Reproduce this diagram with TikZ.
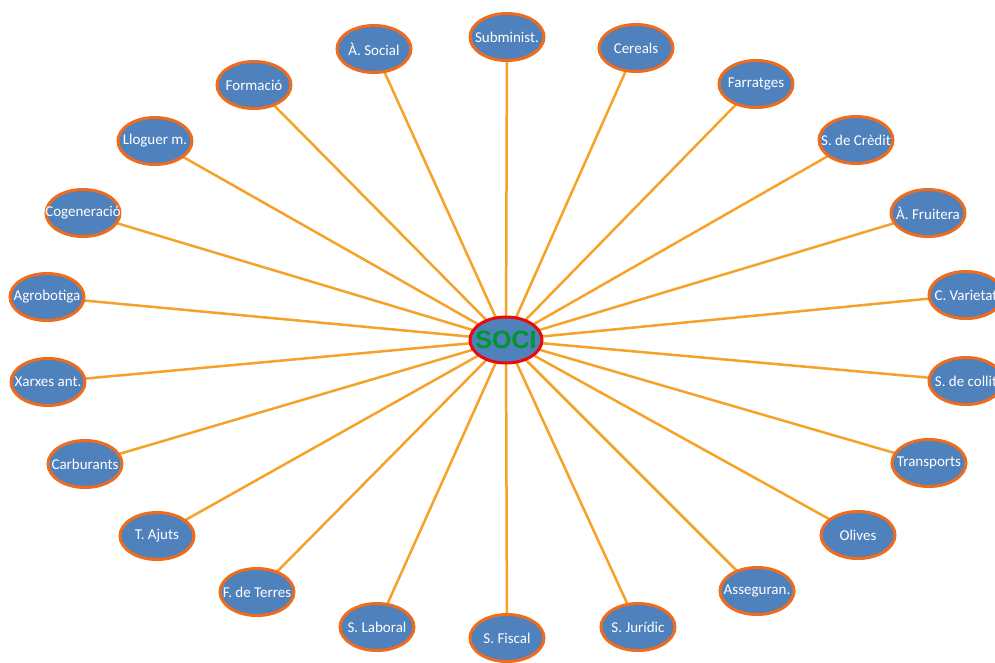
\documentclass[tikz,border=0pt]{standalone}
\usepackage{fontspec}
\setmainfont{Carlito}
\newfontfamily\socifont{Liberation Sans}
\usetikzlibrary{shapes.geometric,backgrounds}
\definecolor{nodeblue}{RGB}{79,129,189}
\definecolor{rimorange}{RGB}{238,108,28}
\definecolor{linkorange}{RGB}{246,162,40}
\definecolor{socired}{RGB}{235,10,10}
\definecolor{socigreen}{RGB}{0,150,40}
\tikzset{
  leaf/.style={ellipse, draw=rimorange, line width=3pt, fill=nodeblue,
    minimum width=74pt, minimum height=47pt, inner sep=0pt,
    text=white, font=\fontsize{15}{15}\selectfont},
  hub/.style={ellipse, draw=socired, line width=3pt, fill=nodeblue,
    minimum width=72pt, minimum height=46pt, inner sep=0pt,
    text=socigreen, font=\socifont\bfseries\fontsize{25}{25}\selectfont},
  link/.style={draw=linkorange, line width=2.5pt}
}
\newcommand{\lbl}[1]{\makebox[0pt]{#1}}
\begin{document}
\begin{tikzpicture}[x=1pt,y=-1pt]
\useasboundingbox (0,0) rectangle (995,662);
\node[hub] (soci) at (506,340) {\lbl{SOCI}};
\node[leaf] (n1) at (507,37) {\lbl{Subminist.}};
\node[leaf] (n2) at (636,48) {\lbl{Cereals}};
\node[leaf] (n3) at (756,84) {\lbl{Farratges}};
\node[leaf] (n4) at (856,140) {\lbl{S. de Crèdit}};
\node[leaf] (n5) at (928,213) {\lbl{À. Fruitera}};
\node[leaf] (n6) at (966,295) {\lbl{C. Varietat}};
\node[leaf] (n7) at (966,381) {\lbl{S. de collit}};
\node[leaf] (n8) at (929,463) {\lbl{Transports}};
\node[leaf] (n9) at (858,535) {\lbl{Olives}};
\node[leaf] (n10) at (757,591) {\lbl{Asseguran.}};
\node[leaf] (n11) at (638,627) {\lbl{S. Jurídic}};
\node[leaf] (n12) at (507,638) {\lbl{S. Fiscal}};
\node[leaf] (n13) at (377,627) {\lbl{S. Laboral}};
\node[leaf] (n14) at (257,592) {\lbl{F. de Terres}};
\node[leaf] (n15) at (157,536) {\lbl{T. Ajuts}};
\node[leaf] (n16) at (85,464) {\lbl{Carburants}};
\node[leaf] (n17) at (48,382) {\lbl{Xarxes ant.}};
\node[leaf] (n18) at (47,297) {\lbl{Agrobotiga}};
\node[leaf] (n19) at (83,213) {\lbl{Cogeneració}};
\node[leaf] (n20) at (155,141) {\lbl{Lloguer m.}};
\node[leaf] (n21) at (254,85) {\lbl{Formació}};
\node[leaf] (n22) at (374,49) {\lbl{À. Social}};
\begin{scope}[on background layer]
\foreach \i in {1,...,22}{
  \draw[link] (soci.center) -- (n\i.center);
}
\end{scope}
\end{tikzpicture}
\end{document}
